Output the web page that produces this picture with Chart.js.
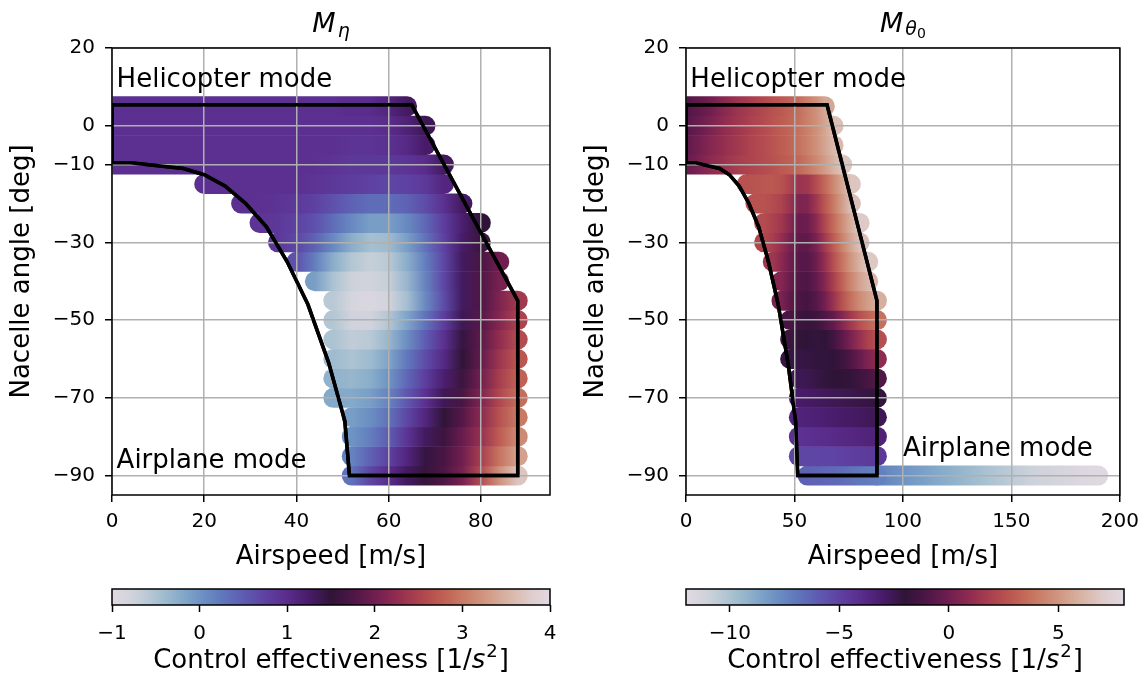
<!DOCTYPE html>
<html>
<head>
<meta charset="utf-8">
<script src="https://cdn.jsdelivr.net/npm/chart.js@4.4.0/dist/chart.umd.min.js"></script>
<style>
  body { margin: 0; background: #fff; }
  #wrap { position: relative; width: 1147px; height: 679px; overflow: hidden; background: #fff; }
  canvas { position: absolute; }
</style>
</head>
<body>
<div id="wrap">
  <canvas id="eta-chart" width="574" height="590" style="left:0px;top:0px"></canvas>
  <canvas id="theta-chart" width="573" height="590" style="left:574px;top:0px"></canvas>
  <canvas id="eta-bar" width="574" height="109" style="left:0px;top:570px"></canvas>
  <canvas id="theta-bar" width="573" height="109" style="left:574px;top:570px"></canvas>
</div>
<script>
// grid of the sampled envelope: airspeed columns [m/s] and nacelle angle rows [deg]
const SPEEDS = [0, 4, 8, 12, 16, 20, 24, 28, 32, 36, 40, 44, 48, 52, 56, 60, 64, 68, 72, 76, 80, 84, 88]
const ANGLES = [5, 0, -5, -10, -15, -20, -25, -30, -35, -40, -45, -50, -55, -60, -65, -70, -75, -80, -85, -90]
const _ = null

// M_eta [1/s^2], one row per nacelle angle
const ETA_GRID = [
  [0.95,0.95,0.95,0.95,0.95,0.95,0.95,0.95,0.95,0.95,0.95,0.95,0.95,1.0,1.0,1.1,1.3,_,_,_,_,_,_],
  [0.95,0.95,0.95,0.95,0.95,0.95,0.95,0.95,0.95,0.95,0.95,0.95,0.95,0.95,0.95,1.0,1.15,1.35,_,_,_,_,_],
  [0.95,0.95,0.95,0.95,0.95,0.95,0.95,0.95,0.95,0.95,0.95,0.95,0.95,0.9,0.9,0.95,1.05,1.25,_,_,_,_,_],
  [0.95,0.95,0.95,0.95,0.95,0.95,0.95,0.95,0.95,0.95,0.95,0.95,0.9,0.85,0.85,0.85,0.9,1.0,1.3,_,_,_,_],
  [_,_,_,_,_,0.95,0.95,0.95,0.95,0.95,0.95,0.9,0.85,0.8,0.75,0.7,0.75,0.85,1.1,_,_,_,_],
  [_,_,_,_,_,_,_,0.95,0.95,0.9,0.85,0.75,0.6,0.45,0.35,0.35,0.45,0.65,0.95,1.3,_,_,_],
  [_,_,_,_,_,_,_,_,0.9,0.85,0.75,0.6,0.35,0.1,-0.1,-0.1,0.1,0.4,0.8,1.2,1.5,_,_],
  [_,_,_,_,_,_,_,_,_,0.85,0.7,0.45,0.1,-0.25,-0.45,-0.4,-0.1,0.3,0.75,1.25,1.6,_,_],
  [_,_,_,_,_,_,_,_,_,_,0.6,0.2,-0.25,-0.55,-0.7,-0.6,-0.25,0.2,0.7,1.3,1.7,2.0,_],
  [_,_,_,_,_,_,_,_,_,_,_,-0.1,-0.5,-0.75,-0.8,-0.7,-0.35,0.15,0.7,1.3,1.75,2.05,_],
  [_,_,_,_,_,_,_,_,_,_,_,_,-0.6,-0.85,-0.9,-0.8,-0.45,0.1,0.65,1.3,1.75,2.1,2.4],
  [_,_,_,_,_,_,_,_,_,_,_,_,-0.55,-0.8,-0.8,-0.55,-0.15,0.3,0.8,1.35,1.8,2.15,2.5],
  [_,_,_,_,_,_,_,_,_,_,_,_,-0.5,-0.65,-0.6,-0.35,0.05,0.5,0.95,1.45,1.85,2.25,2.6],
  [_,_,_,_,_,_,_,_,_,_,_,_,-0.4,-0.5,-0.4,-0.15,0.25,0.65,1.05,1.5,1.9,2.35,2.7],
  [_,_,_,_,_,_,_,_,_,_,_,_,-0.3,-0.35,-0.25,0.0,0.4,0.8,1.2,1.6,2.0,2.45,2.8],
  [_,_,_,_,_,_,_,_,_,_,_,_,-0.2,-0.2,-0.1,0.15,0.55,0.95,1.35,1.7,2.1,2.55,2.9],
  [_,_,_,_,_,_,_,_,_,_,_,_,_,-0.1,0.05,0.3,0.7,1.1,1.5,1.8,2.2,2.65,3.0],
  [_,_,_,_,_,_,_,_,_,_,_,_,_,0.0,0.2,0.5,0.9,1.3,1.6,1.95,2.3,2.75,3.15],
  [_,_,_,_,_,_,_,_,_,_,_,_,_,0.15,0.45,0.75,1.1,1.45,1.7,2.0,2.45,2.95,3.35],
  [_,_,_,_,_,_,_,_,_,_,_,_,_,0.3,0.7,1.0,1.3,1.55,1.75,2.05,2.6,3.2,3.7]
]

// M_theta0 [1/s^2]
const THETA_GRID = [
  [-1.0,-0.6,-0.3,0.1,0.6,1.0,1.4,1.7,2.0,2.3,2.6,2.9,3.2,3.6,4.2,4.8,5.6,_,_,_,_,_,_],
  [-0.8,-0.4,0.0,0.4,0.8,1.2,1.5,1.8,2.1,2.4,2.7,3.0,3.3,3.7,4.2,4.8,5.5,6.5,_,_,_,_,_],
  [-0.5,-0.1,0.3,0.7,1.0,1.3,1.6,1.9,2.2,2.4,2.7,3.0,3.3,3.7,4.2,4.8,5.5,6.3,_,_,_,_,_],
  [-0.3,0.1,0.5,0.9,1.2,1.5,1.8,2.0,2.2,2.4,2.6,2.9,3.1,3.4,3.9,4.5,5.2,6.0,6.8,_,_,_,_],
  [_,_,_,_,_,_,_,2.6,2.7,2.8,2.8,2.6,2.0,1.3,1.5,2.4,3.4,4.5,5.6,6.8,_,_,_],
  [_,_,_,_,_,_,_,_,2.6,2.6,2.4,2.0,1.3,0.4,0.5,1.5,2.8,4.0,5.3,6.6,_,_,_],
  [_,_,_,_,_,_,_,_,_,2.4,2.0,1.5,0.7,-0.2,-0.1,0.8,2.2,3.5,4.7,5.9,7.0,_,_],
  [_,_,_,_,_,_,_,_,_,2.2,1.8,1.1,0.2,-0.5,-0.5,0.3,1.6,3.0,4.3,5.5,6.6,_,_],
  [_,_,_,_,_,_,_,_,_,_,1.5,0.8,0.0,-0.7,-0.8,-0.1,1.1,2.5,3.8,5.0,6.0,6.9,_],
  [_,_,_,_,_,_,_,_,_,_,_,0.6,-0.2,-0.9,-1.0,-0.4,0.6,1.9,3.2,4.4,5.4,6.2,_],
  [_,_,_,_,_,_,_,_,_,_,_,0.3,-0.5,-1.1,-1.3,-0.8,0.1,1.3,2.6,3.7,4.6,5.3,5.9],
  [_,_,_,_,_,_,_,_,_,_,_,_,-1.2,-1.6,-1.8,-1.6,-1.0,-0.4,0.6,1.6,2.5,3.2,3.7],
  [_,_,_,_,_,_,_,_,_,_,_,_,-1.6,-1.9,-2.0,-2.1,-2.0,-1.4,-0.6,0.3,1.2,2.0,2.5],
  [_,_,_,_,_,_,_,_,_,_,_,_,-2.2,-2.3,-2.2,-2.1,-2.1,-2.0,-1.6,-1.0,-0.3,0.4,0.9],
  [_,_,_,_,_,_,_,_,_,_,_,_,_,-2.6,-2.5,-2.3,-2.1,-2.0,-2.0,-1.9,-1.6,-1.2,-0.9],
  [_,_,_,_,_,_,_,_,_,_,_,_,_,-3.0,-2.9,-2.8,-2.7,-2.6,-2.5,-2.4,-2.3,-2.2,-2.1],
  [_,_,_,_,_,_,_,_,_,_,_,_,_,-3.5,-3.4,-3.3,-3.2,-3.1,-3.0,-2.9,-2.8,-2.7,-2.6],
  [_,_,_,_,_,_,_,_,_,_,_,_,_,-4.3,-4.2,-4.1,-4.0,-3.9,-3.8,-3.7,-3.6,-3.5,-3.4],
  [_,_,_,_,_,_,_,_,_,_,_,_,_,-5.2,-5.2,-5.2,-5.1,-5.1,-5.0,-4.9,-4.8,-4.7,-4.6],
  [_,_,_,_,_,_,_,_,_,_,_,_,_,_,-6.2,-6.3,-6.4,-6.5,-6.6,-6.8,-7.0,-7.1,-7.3]
]

// airplane mode run at -90 deg (right panel only)
const AIRPLANE_ANGLE = -90
const AIRPLANE_SPEEDS = [88, 100, 120, 140, 160, 180, 190]
const AIRPLANE_THETA = [-7.3, -8.0, -9.0, -10.0, -11.0, -11.6, -11.9]

// conversion corridor outline
const BOUNDARY_SPEED = [0, 65, 88, 88, 51.5, 50.5, 47, 42.5, 38, 33.5, 29, 24.5, 20, 15.5, 4, 0, 0]
const BOUNDARY_ANGLE = [5.4, 5.4, -45, -90, -90, -76, -61, -46, -35, -26, -20, -15.5, -12.6, -11, -9.5, -9.5, 5.4]

const ETA_RANGE = [-1, 4]
const THETA_RANGE = [-12, 8]
const ETA_CB_TICKS = [-1, 0, 1, 2, 3, 4]
const THETA_CB_TICKS = [-10, -5, 0, 5]
const ETA_X_TICKS = [0, 20, 40, 60, 80]
const THETA_X_TICKS = [0, 50, 100, 150, 200]
const ANGLE_TICKS = [20, 0, -10, -30, -50, -70, -90]

// matplotlib "twilight", sampled every 0.05
const TWILIGHT = [
  [226,217,226],[205,210,218],[172,195,210],[138,174,202],[110,148,196],[96,120,188],
  [94,92,178],[94,65,162],[90,44,140],[72,27,105],[48,20,56],[78,22,70],[112,30,80],
  [145,44,80],[172,66,78],[190,92,82],[200,122,100],[208,150,128],[215,178,162],
  [222,202,200],[226,217,226]
]

Chart.defaults.font.family = "'DejaVu Sans', sans-serif"
Chart.defaults.color = '#000'

function twilight(t)
{
    t = Math.min(1, Math.max(0, t))
    var f = t * (TWILIGHT.length - 1)
    var i = Math.min(TWILIGHT.length - 2, Math.floor(f))
    var w = f - i
    var a = TWILIGHT[i], b = TWILIGHT[i + 1]
    var c = a.map((v, k) => Math.round(v + (b[k] - v) * w))
    return 'rgb(' + c.join(',') + ')'
}

function norm(v, range)
{
    return (v - range[0]) / (range[1] - range[0])
}

function fmt(v)
{
    return v < 0 ? '\u2212' + Math.abs(v) : String(v)
}

// one horizontal gradient per row, a colour stop at every sampled speed
function rowGradient(ctx, range)
{
    var chart = ctx.chart
    var pts = chart.data.datasets[ctx.datasetIndex].data
    var xs = chart.scales.x
    var x0 = xs.getPixelForValue(pts[0].x)
    var x1 = xs.getPixelForValue(pts[pts.length - 1].x)
    if (!isFinite(x0) || !isFinite(x1) || x0 === x1)
        return twilight(norm(pts[0].v, range))
    var g = chart.ctx.createLinearGradient(x0, 0, x1, 0)
    for (const p of pts)
        g.addColorStop((xs.getPixelForValue(p.x) - x0) / (x1 - x0), twilight(norm(p.v, range)))
    return g
}

function rowDataset(pts, range)
{
    return {
        data: pts,
        showLine: true,
        pointRadius: 0,
        borderWidth: 20,
        borderColor: c => rowGradient(c, range),
        borderCapStyle: 'round',
        borderJoinStyle: 'round',
        clip: 0,
        order: 2
    }
}

function drawParts(ctx, parts, cx, baseline)
{
    ctx.save()
    ctx.fillStyle = '#000'
    ctx.textBaseline = 'alphabetic'
    ctx.textAlign = 'left'
    var total = 0
    for (const p of parts) {
        ctx.font = p.font
        total += ctx.measureText(p.text).width + (p.gap || 0)
    }
    var x = cx - total / 2
    for (const p of parts) {
        ctx.font = p.font
        x += p.gap || 0
        ctx.fillText(p.text, x, baseline + (p.dy || 0))
        x += ctx.measureText(p.text).width
    }
    ctx.restore()
}

// frame round the axes; boundary dataset is drawn again over the grid
function framePlugin(redrawIndex)
{
    return {
        id: 'frame',
        afterDraw(chart) {
            var ctx = chart.ctx, a = chart.chartArea
            if (redrawIndex !== undefined) {
                ctx.save()
                ctx.beginPath()
                ctx.rect(a.left, a.top, a.right - a.left, a.bottom - a.top)
                ctx.clip()
                chart.getDatasetMeta(redrawIndex).controller.draw()
                ctx.restore()
            }
            ctx.save()
            ctx.strokeStyle = '#000'
            ctx.lineWidth = 1.5
            ctx.strokeRect(a.left, a.top, a.right - a.left, a.bottom - a.top)
            ctx.restore()
        }
    }
}

function textPlugin(title, titleBaseline, notes)
{
    return {
        id: 'texts',
        afterDraw(chart) {
            var ctx = chart.ctx, a = chart.chartArea
            if (title)
                drawParts(ctx, title, (a.left + a.right) / 2, titleBaseline)
            if (!notes)
                return
            ctx.save()
            ctx.font = "26px 'DejaVu Sans'"
            ctx.fillStyle = '#000'
            ctx.textAlign = 'left'
            ctx.textBaseline = 'alphabetic'
            for (const n of notes)
                ctx.fillText(n.text, chart.scales.x.getPixelForValue(n.x), chart.scales.y.getPixelForValue(n.y))
            ctx.restore()
        }
    }
}

function makePanel(id, grid, range, xMax, xTicks, title, notes, extraRow)
{
    var canvas = document.getElementById(id)
    var datasets = [{
        data: BOUNDARY_SPEED.map((s, i) => ({x: s, y: BOUNDARY_ANGLE[i]})),
        showLine: true,
        borderColor: '#000',
        borderWidth: 3.5,
        borderJoinStyle: 'miter',
        pointRadius: 0,
        clip: 0,
        order: 0
    }]
    ANGLES.forEach((ang, r) => {
        var pts = []
        SPEEDS.forEach((s, c) => {
            var v = grid[r][c]
            if (v !== null)
                pts.push({x: s, y: ang, v: v})
        })
        datasets.push(rowDataset(pts, range))
    })
    if (extraRow)
        datasets.push(rowDataset(extraRow, range))

    return new Chart(canvas, {
        type: 'scatter',
        data: {datasets: datasets},
        options: {
            responsive: false,
            animation: false,
            events: [],
            layout: {padding: {top: 48, right: canvas.width - 550, left: 0, bottom: 0}},
            plugins: {legend: {display: false}, tooltip: {enabled: false}},
            scales: {
                x: {
                    type: 'linear', min: 0, max: xMax,
                    afterFit: s => { s.height = 95 },
                    afterBuildTicks: s => { s.ticks = xTicks.map(v => ({value: v})) },
                    grid: {color: '#b0b0b0', lineWidth: 1.5, z: 1, tickColor: '#000', tickLength: 7, tickWidth: 1.5},
                    border: {display: false},
                    ticks: {padding: 8, autoSkip: false, maxRotation: 0, font: {size: 20}, color: '#000', callback: fmt},
                    title: {display: true, text: 'Airspeed [m/s]', font: {size: 26}, color: '#000', padding: {top: 0, bottom: 17}}
                },
                y: {
                    type: 'linear', min: -95, max: 20,
                    afterFit: s => { s.width = 112 },
                    afterBuildTicks: s => { s.ticks = ANGLE_TICKS.map(v => ({value: v})) },
                    grid: {color: '#b0b0b0', lineWidth: 1.5, z: 1, tickColor: '#000', tickLength: 7, tickWidth: 1.5},
                    border: {display: false},
                    ticks: {padding: 10, autoSkip: false, font: {size: 20}, color: '#000', callback: fmt},
                    title: {display: true, text: 'Nacelle angle [deg]', font: {size: 26}, color: '#000', padding: {top: 7, bottom: 0}}
                }
            }
        },
        plugins: [framePlugin(0), textPlugin(title, 32, notes)]
    })
}

function cbGradient(c)
{
    var a = c.chart.chartArea
    if (!a)
        return '#888'
    var g = c.chart.ctx.createLinearGradient(a.left, 0, a.right, 0)
    for (let i = 0; i <= 40; i++)
        g.addColorStop(i / 40, twilight(i / 40))
    return g
}

const CB_LABEL = [
    {text: 'Control effectiveness [1/', font: "26px 'DejaVu Sans'"},
    {text: 's', font: "italic 26px 'DejaVu Sans'"},
    {text: '2', font: "18px 'DejaVu Sans'", dy: -11, gap: 1},
    {text: ']', font: "26px 'DejaVu Sans'", gap: 1}
]

function makeColorbar(id, range, ticks)
{
    var canvas = document.getElementById(id)
    return new Chart(canvas, {
        type: 'bar',
        data: {
            labels: ['cb'],
            datasets: [{
                data: [[range[0], range[1]]],
                backgroundColor: cbGradient,
                borderWidth: 0,
                barPercentage: 1,
                categoryPercentage: 1
            }]
        },
        options: {
            indexAxis: 'y',
            responsive: false,
            animation: false,
            events: [],
            layout: {padding: {left: 112, right: canvas.width - 550, top: 19, bottom: 0}},
            plugins: {legend: {display: false}, tooltip: {enabled: false}},
            scales: {
                x: {
                    type: 'linear', min: range[0], max: range[1],
                    afterFit: s => { s.height = 74 },
                    afterBuildTicks: s => { s.ticks = ticks.map(v => ({value: v})) },
                    grid: {drawOnChartArea: false, tickColor: '#000', tickLength: 7, tickWidth: 1.5},
                    border: {display: false},
                    ticks: {padding: 10, autoSkip: false, maxRotation: 0, font: {size: 20}, color: '#000', callback: fmt}
                },
                y: {display: false}
            }
        },
        plugins: [framePlugin(), textPlugin(CB_LABEL, 98, null)]
    })
}

var airplaneRow = AIRPLANE_SPEEDS.map((s, i) => ({x: s, y: AIRPLANE_ANGLE, v: AIRPLANE_THETA[i]}))

makePanel('eta-chart', ETA_GRID, ETA_RANGE, 95, ETA_X_TICKS,
    [{text: 'M', font: "italic 27px 'DejaVu Sans'"},
     {text: '\u03b7', font: "italic 19px 'DejaVu Sans'", dy: 5, gap: 2}],
    [{text: 'Helicopter mode', x: 1, y: 10}, {text: 'Airplane mode', x: 1, y: -88}],
    null)

makePanel('theta-chart', THETA_GRID, THETA_RANGE, 200, THETA_X_TICKS,
    [{text: 'M', font: "italic 27px 'DejaVu Sans'"},
     {text: '\u03b8', font: "italic 19px 'DejaVu Sans'", dy: 3, gap: 2},
     {text: '0', font: "14px 'DejaVu Sans'", dy: 6}],
    [{text: 'Helicopter mode', x: 2, y: 10}, {text: 'Airplane mode', x: 100, y: -85}],
    airplaneRow)

makeColorbar('eta-bar', ETA_RANGE, ETA_CB_TICKS)
makeColorbar('theta-bar', THETA_RANGE, THETA_CB_TICKS)
</script>
</body>
</html>
